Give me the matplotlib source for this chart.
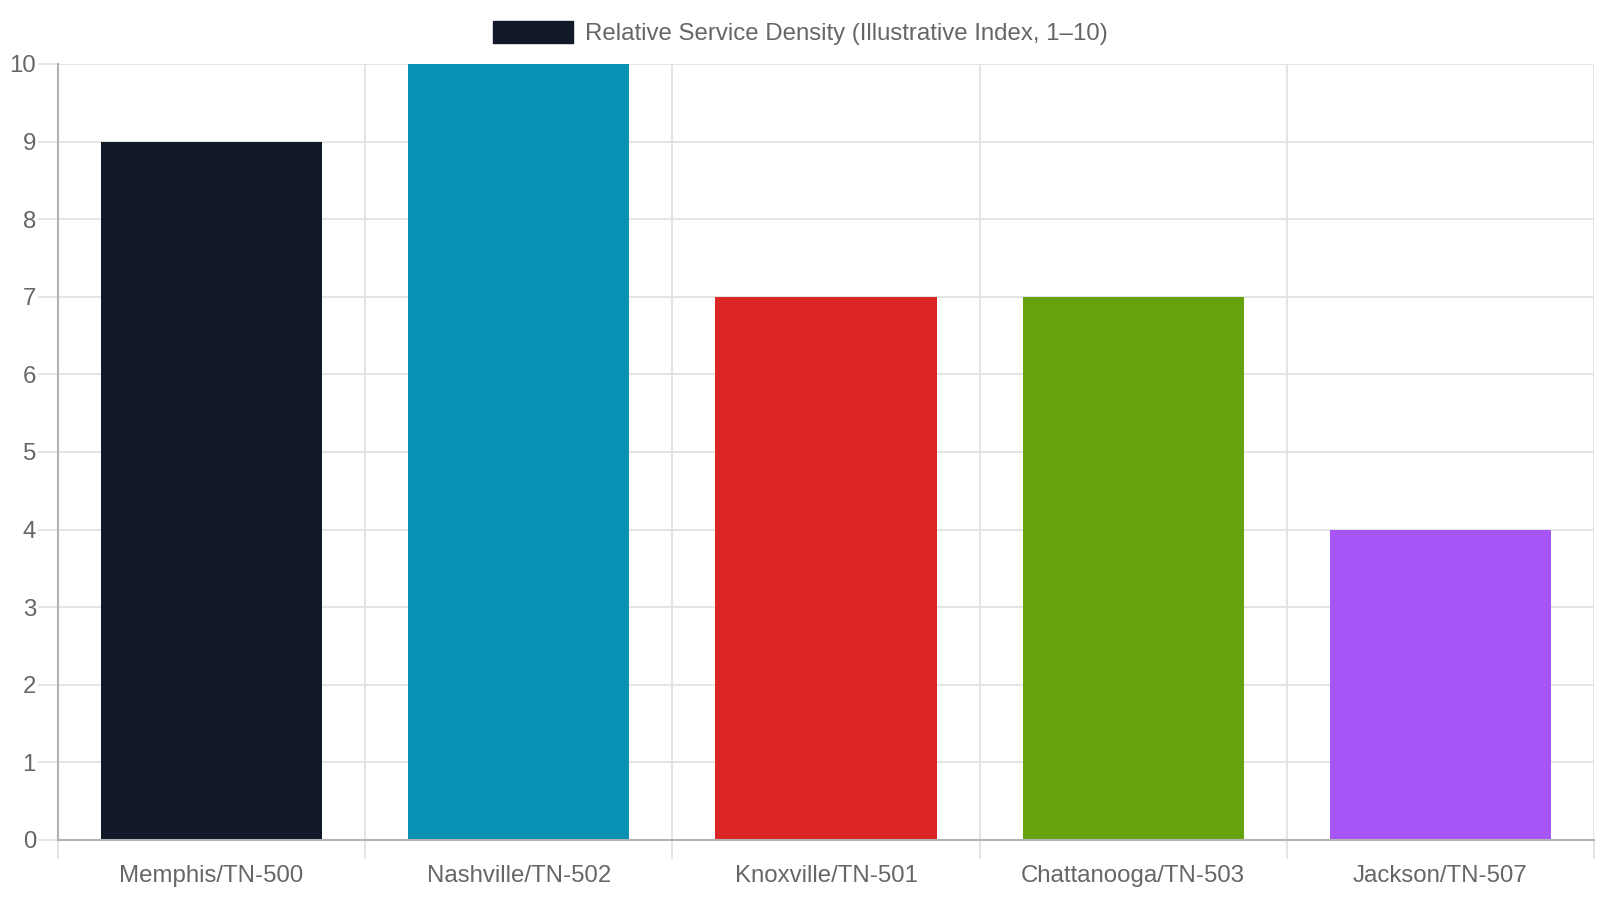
import matplotlib
matplotlib.use("Agg")
import matplotlib.pyplot as plt
from matplotlib.patches import Patch
from matplotlib.ticker import FixedLocator

categories = ["Memphis/TN-500", "Nashville/TN-502", "Knoxville/TN-501",
              "Chattanooga/TN-503", "Jackson/TN-507"]
values = [9, 10, 7, 7, 4]
colors = ["#111827", "#0891b2", "#dc2626", "#65a30d", "#a855f7"]
series_label = "Relative Service Density (Illustrative Index, 1\u201310)"
yticks = list(range(0, 11))

W, H = 1600, 900
plt.rcParams['font.family'] = ['Liberation Sans', 'DejaVu Sans']
px = 72 / 100.0  # points per pixel at dpi 100
fs = 24 * px

fig = plt.figure(figsize=(16, 9), dpi=100)
left, right, top, bottom = 58, 1594, 64, 840
ax = fig.add_axes([left / W, 1 - bottom / H, (right - left) / W, (bottom - top) / H])

x = list(range(len(categories)))
ax.bar(x, values, width=0.72, color=colors, edgecolor=colors, linewidth=0,
       label=series_label, zorder=3)

ax.set_xlim(-0.5, len(categories) - 0.5)
ax.set_ylim(0, 10)

grid_c = "#e2e2e2"
axis_c = "#b3b3b3"
txt_c = "#666666"

ax.set_yticks(yticks)
ax.set_yticklabels([str(v) for v in yticks])
ax.tick_params(axis='y', length=20 * px, width=1.3, color=grid_c, pad=2 * px,
               labelsize=fs, labelcolor=txt_c)
ax.grid(axis='y', which='major', color=grid_c, linewidth=1.3, zorder=0)

ax.set_xticks(x)
ax.set_xticklabels(categories)
ax.tick_params(axis='x', which='major', length=0, pad=25 * px,
               labelsize=fs, labelcolor=txt_c)
bounds = [i - 0.5 for i in range(len(categories) + 1)]
ax.xaxis.set_minor_locator(FixedLocator(bounds))
ax.tick_params(axis='x', which='minor', length=19 * px, width=1.3, color=grid_c)
ax.grid(axis='x', which='minor', color=grid_c, linewidth=1.3, zorder=0)

for s in ['top', 'right']:
    ax.spines[s].set_visible(False)
for s in ['left', 'bottom']:
    ax.spines[s].set_color(axis_c)
    ax.spines[s].set_linewidth(1.5)
    ax.spines[s].set_zorder(4)

handle = Patch(facecolor=colors[0], edgecolor=colors[0])
fig.legend([handle], [series_label], loc='center', bbox_to_anchor=(0.5, 1 - 33 / H),
           frameon=False, fontsize=fs, labelcolor=txt_c,
           handlelength=80 / 24, handleheight=1.0, handletextpad=0.5,
           borderpad=0, borderaxespad=0)

fig.savefig("out.png", dpi=100, facecolor="white")
